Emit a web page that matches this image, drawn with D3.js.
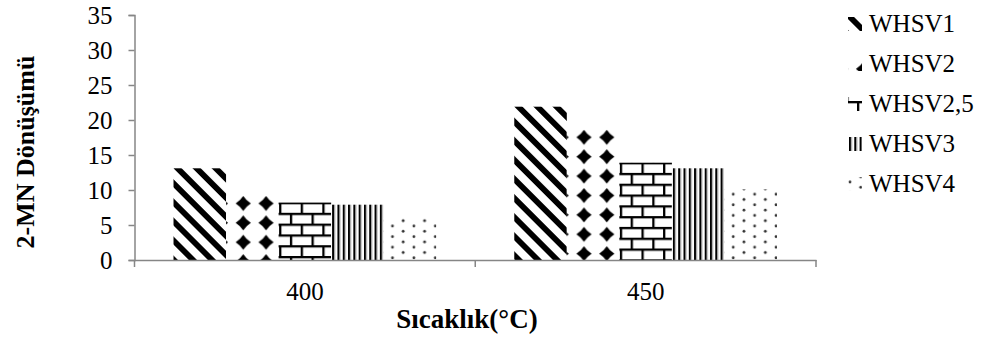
<!DOCTYPE html>
<html><head><meta charset="utf-8">
<script src="https://cdn.jsdelivr.net/npm/d3@7"></script>
<style>
html,body{margin:0;padding:0;background:#fff;}
svg{display:block;}
text{font-family:"Liberation Serif","Times New Roman",serif;fill:#000;}
</style></head>
<body>
<svg id="chart" width="981" height="339"></svg>
<script>
const categories = ["400", "450"];
const seriesNames = ["WHSV1", "WHSV2", "WHSV2,5", "WHSV3", "WHSV4"];
const WHSV1 = [13.1, 21.9];
const WHSV2 = [9.15, 18.6];
const WHSV2_5 = [8.2, 13.9];
const WHSV3 = [7.9, 13.1];
const WHSV4 = [6.0, 10.1];
const seriesValues = [WHSV1, WHSV2, WHSV2_5, WHSV3, WHSV4];
const yTicks = [0, 5, 10, 15, 20, 25, 30, 35];
const yTitle = "2-MN Dönüşümü";
const xTitle = "Sıcaklık(°C)";

const svg = d3.select("#chart");
const defs = svg.append("defs");

// pattern builder: type = series index, (ox, oy) = anchor point
function makePattern(id, type, ox, oy) {
  let p;
  if (type === 0) { // wide downward diagonal stripes
    p = defs.append("pattern").attr("id", id).attr("patternUnits", "userSpaceOnUse")
      .attr("width", 13.5).attr("height", 13.5)
      .attr("patternTransform", `translate(${ox},${oy}) rotate(-45)`);
    p.append("rect").attr("width", 13.5).attr("height", 13.5).attr("fill", "#fff");
    p.append("rect").attr("x", 0).attr("width", 5.8).attr("height", 13.5).attr("fill", "#000");
  } else if (type === 1) { // solid diamonds
    p = defs.append("pattern").attr("id", id).attr("patternUnits", "userSpaceOnUse")
      .attr("width", 22.8).attr("height", 19.4)
      .attr("patternTransform", `translate(${ox + 5.8},${oy})`);
    p.append("rect").attr("width", 22.8).attr("height", 19.4).attr("fill", "#fff");
    p.append("path").attr("d", "M11.4,0 Q14.4,4.6 19,7.5 Q14.4,10.4 11.4,15 Q8.4,10.4 3.8,7.5 Q8.4,4.6 11.4,0 Z").attr("fill", "#000");
  } else if (type === 2) { // bricks
    p = defs.append("pattern").attr("id", id).attr("patternUnits", "userSpaceOnUse")
      .attr("width", 21.6).attr("height", 21.6)
      .attr("patternTransform", `translate(${ox + 0.5},${oy - 0.6})`);
    p.append("rect").attr("width", 21.6).attr("height", 21.6).attr("fill", "#fff");
    p.append("rect").attr("x", 0).attr("y", 0).attr("width", 21.6).attr("height", 2.3).attr("fill", "#000");
    p.append("rect").attr("x", 0).attr("y", 10.8).attr("width", 21.6).attr("height", 2.3).attr("fill", "#000");
    p.append("rect").attr("x", 0).attr("y", 0).attr("width", 2.3).attr("height", 10.8).attr("fill", "#000");
    p.append("rect").attr("x", 10.8).attr("y", 10.8).attr("width", 2.3).attr("height", 10.8).attr("fill", "#000");
  } else if (type === 3) { // narrow vertical lines
    p = defs.append("pattern").attr("id", id).attr("patternUnits", "userSpaceOnUse")
      .attr("width", 5.3).attr("height", 10)
      .attr("patternTransform", `translate(${ox + 1},${oy})`);
    p.append("rect").attr("width", 5.3).attr("height", 10).attr("fill", "#fff");
    p.append("rect").attr("x", 0).attr("width", 1.8).attr("height", 10).attr("fill", "#000");
    p.append("rect").attr("x", 1.8).attr("width", 1.2).attr("height", 10).attr("fill", "#9a9a9a");
  } else { // dots
    p = defs.append("pattern").attr("id", id).attr("patternUnits", "userSpaceOnUse")
      .attr("width", 21.4).attr("height", 10.6)
      .attr("patternTransform", `translate(${ox},${oy})`);
    p.append("rect").attr("width", 21.4).attr("height", 10.6).attr("fill", "#fff");
    p.append("circle").attr("cx", 8.8).attr("cy", 8.4).attr("r", 1.4).attr("fill", "#333");
    p.append("circle").attr("cx", 19.5).attr("cy", 3.1).attr("r", 1.4).attr("fill", "#333");
  }
  return `url(#${id})`;
}

// scales
const plotLeft = 134.5, plotRight = 816, plotTop = 15, plotBottom = 260;
const y = d3.scaleLinear().domain([0, 35]).range([plotBottom, plotTop]);
const xAxisScale = d3.scaleBand().domain(categories).range([plotLeft, plotRight]).padding(0);
const x0 = d3.scaleBand().domain(categories).range([plotLeft, plotRight])
  .paddingInner(0.229).paddingOuter(0.1145);
const x1 = d3.scaleBand().domain(seriesNames).range([0, x0.bandwidth()]).padding(0);

// bars
const barData = [];
categories.forEach((c, ci) => seriesNames.forEach((s, si) => {
  barData.push({c, ci, s, si, v: seriesValues[si][ci]});
}));
svg.append("g").selectAll("rect").data(barData).join("rect")
  .attr("x", d => x0(d.c) + x1(d.s))
  .attr("width", x1.bandwidth())
  .attr("y", d => y(d.v))
  .attr("height", d => y(0) - y(d.v))
  .attr("fill", d => {
    const bx = x0(d.c) + x1(d.s);
    const oy = d.si === 4 ? y(0) : y(d.v);
    return makePattern(`bar-${d.si}-${d.ci}`, d.si, bx, oy);
  });

const axisColor = "#868686";
// y axis
const yAxis = svg.append("g").attr("transform", `translate(${plotLeft},0)`)
  .call(d3.axisLeft(y).tickValues(yTicks).tickSize(6).tickPadding(16).tickFormat(d3.format("d")));
yAxis.select(".domain").attr("stroke", axisColor).attr("stroke-width", 1.5);
yAxis.selectAll(".tick line").attr("stroke", axisColor).attr("stroke-width", 1.5);
yAxis.selectAll(".tick text").attr("font-size", 25).attr("font-family", "Liberation Serif").attr("fill", "#000");

// x axis
const xAxis = svg.append("g").attr("transform", `translate(0,${plotBottom})`)
  .call(d3.axisBottom(xAxisScale).tickSize(0).tickPadding(22));
xAxis.select(".domain").attr("stroke", axisColor).attr("stroke-width", 1.5);
xAxis.selectAll(".tick text").attr("font-size", 25).attr("font-family", "Liberation Serif").attr("fill", "#000");
const bounds = categories.map(c => xAxisScale(c)).concat([xAxisScale(categories[categories.length - 1]) + xAxisScale.bandwidth()]);
xAxis.selectAll("line.bound").data(bounds).join("line").attr("class", "bound")
  .attr("x1", d => d).attr("x2", d => d).attr("y1", 0).attr("y2", 7)
  .attr("stroke", axisColor).attr("stroke-width", 1.5);

// axis titles
svg.append("text").attr("transform", `translate(34,152) rotate(-90)`)
  .attr("text-anchor", "middle").attr("font-weight", "bold").attr("font-size", 26).text(yTitle);
svg.append("text").attr("x", 467).attr("y", 328)
  .attr("text-anchor", "middle").attr("font-weight", "bold").attr("font-size", 27).text(xTitle);

// legend
const legendAnchors = [[845.9, 17], [846.3, 61.5], [856.5, 101.6], [848, 137], [841.2, 173.6]];
const legend = svg.append("g");
const li = legend.selectAll("g").data(seriesNames).join("g")
  .attr("transform", (d, i) => `translate(0,${32 + i * 40})`);
li.append("rect").attr("x", 848).attr("y", -15).attr("width", 14).attr("height", 14)
  .attr("fill", (d, i) => makePattern(`leg-${i}`, i, legendAnchors[i][0], legendAnchors[i][1] - (32 + i * 40)));
li.append("text").attr("x", 869).attr("y", 0).attr("font-size", 25).text(d => d);
</script>
</body></html>
